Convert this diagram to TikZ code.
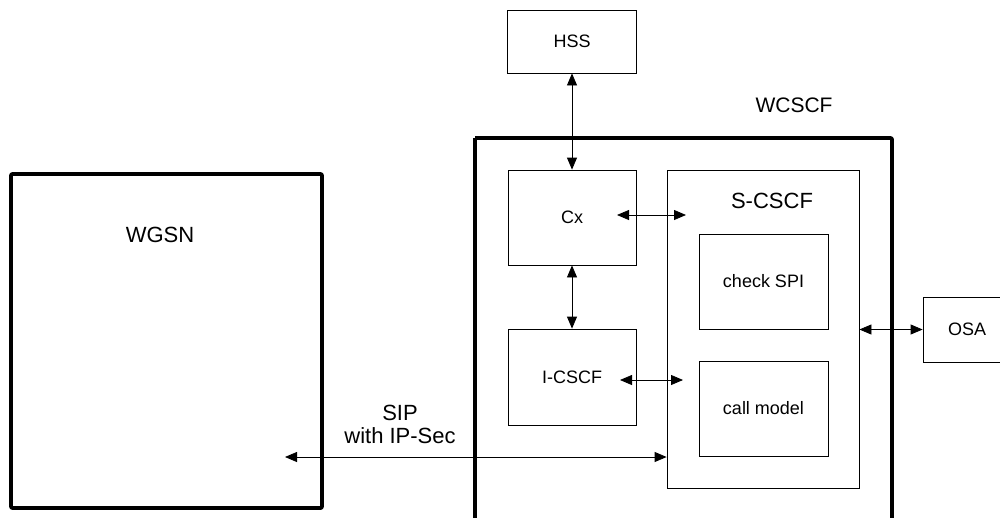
\documentclass[tikz,border=0pt]{standalone}
\usepackage{fontspec}
\setmainfont{Liberation Sans}
\usepackage{tikz}
\usetikzlibrary{arrows.meta}

\tikzset{
  box/.style={draw, line width=0.8pt, inner sep=0pt,
    font=\fontsize{18}{21}\selectfont},
  bigbox/.style={draw, line width=3.6pt, line join=round, rounded corners=1pt},
  conn/.style={line width=0.8pt, {Triangle[length=12pt,width=10pt]}-{Triangle[length=12pt,width=10pt]}},
  biglabel/.style={font=\fontsize{22}{26}\selectfont}
}

\begin{document}
\begin{tikzpicture}[x=1pt, y=-1pt]
  \useasboundingbox (0,0) rectangle (1000,517);

  % Outer blocks
  \draw[bigbox] (11,174) rectangle (322,508);
  \node[biglabel] (wgsn) at (160,235) {WGSN};
  \draw[bigbox] (475,138) -- (475,540) (475,138) -- (892,138) -- (892,540);
  \node[font=\fontsize{21}{24}\selectfont] (wcscf) at (794,105) {WCSCF};

  % Functions
  \node[box, minimum width=129pt, minimum height=63pt] (hss) at (572,41.5) {HSS};
  \node[box, minimum width=128pt, minimum height=95pt] (cx) at (572,217.5) {Cx};
  \node[box, minimum width=128pt, minimum height=96pt] (icscf) at (572,377) {I-CSCF};
  \node[box, minimum width=192pt, minimum height=318pt] (scscf) at (763,329) {};
  \node[biglabel] (scscfname) at (772,201) {S-CSCF};
  \node[box, minimum width=129pt, minimum height=95pt] (checkspi) at (763.5,281.5) {check SPI};
  \node[box, minimum width=129pt, minimum height=95pt] (callmodel) at (763.5,408.5) {call model};
  \node[box, minimum width=88pt, minimum height=65pt] (osa) at (967,329.5) {OSA};

  % SIP label
  \node[biglabel, align=center] (sip) at (400,424) {SIP\\[-3pt]with IP-Sec};

  % Free ends of the links
  \coordinate (cxport) at (617,215);
  \coordinate (scscftop) at (686,215);
  \coordinate (icscfport) at (620,380);
  \coordinate (scscfmid) at (683,380);
  \coordinate (wgsnport) at (285,457);

  % Links
  \draw[conn] (hss.south) -- (cx.north);
  \draw[conn] (cx.south) -- (icscf.north);
  \draw[conn] (cxport) -- (scscftop);
  \draw[conn] (icscfport) -- (scscfmid);
  \draw[conn] (wgsnport) -- (wgsnport -| scscf.west);
  \draw[conn] (osa.west -| scscf.east) -- (osa.west);
\end{tikzpicture}
\end{document}
